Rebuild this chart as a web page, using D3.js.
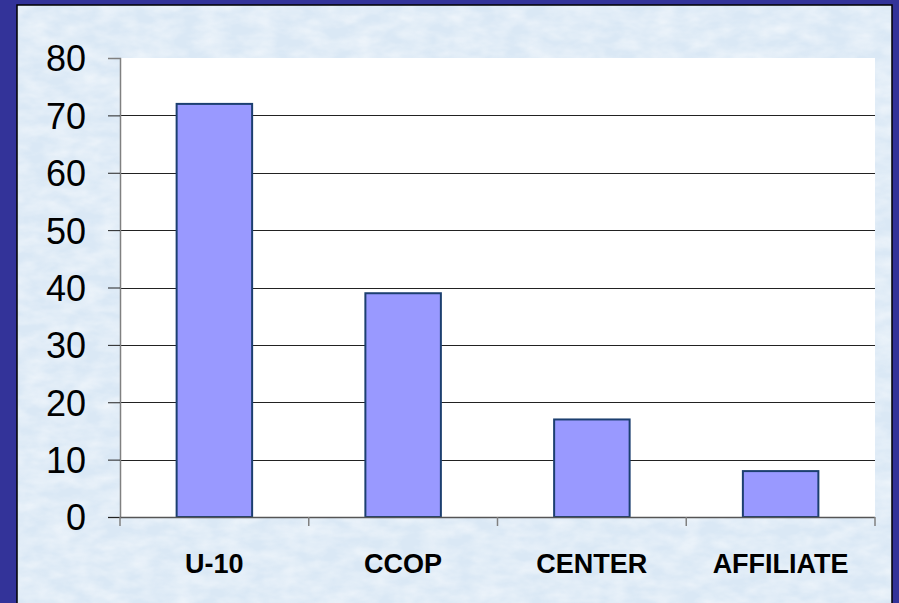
<!DOCTYPE html>
<html>
<head>
<meta charset="utf-8">
<script src="https://cdn.jsdelivr.net/npm/d3@7"></script>
<style>
  html, body { margin: 0; padding: 0; background: #333399; }
  svg { display: block; }
</style>
</head>
<body>
<script>
const categories = ["U-10", "CCOP", "CENTER", "AFFILIATE"];
const values = [72, 39, 17, 8];
const yTicks = [0, 10, 20, 30, 40, 50, 60, 70, 80];

const W = 899, H = 603;
const svg = d3.select("body").append("svg").attr("width", W).attr("height", H);

const defs = svg.append("defs");
const f = defs.append("filter").attr("id", "tex").attr("x", 0).attr("y", 0).attr("width", "100%").attr("height", "100%");
f.append("feTurbulence").attr("type", "fractalNoise").attr("baseFrequency", "0.04 0.08").attr("numOctaves", 3).attr("seed", 4).attr("result", "n");
f.append("feColorMatrix").attr("in", "n").attr("type", "matrix")
  .attr("values", "0 0 0 0 1  0 0 0 0 1  0 0 0 0 1  0 0 0 -1.4 1.0").attr("result", "w");
f.append("feComposite").attr("in", "w").attr("in2", "SourceGraphic").attr("operator", "in");

// outer dark blue
svg.append("rect").attr("width", W).attr("height", H).attr("fill", "#333399");
// light textured panel
svg.append("rect").attr("x", 17).attr("y", 5).attr("width", 875).attr("height", 620)
  .attr("fill", "#dae8f5").attr("stroke", "#000").attr("stroke-width", 1.5);
svg.append("rect").attr("x", 18).attr("y", 6).attr("width", 873).attr("height", 620)
  .attr("fill", "#f2f7fd").attr("filter", "url(#tex)").attr("opacity", 0.6);

const x0 = 120, x1 = 875, yTop = 58, yBot = 517;
const x = d3.scaleBand().domain(categories).range([x0, x1]).paddingInner(0.6).paddingOuter(0.3);
const y = d3.scaleLinear().domain([0, 80]).range([yBot, yTop]);

// plot area
svg.append("rect").attr("x", x0).attr("y", yTop).attr("width", x1 - x0).attr("height", yBot - yTop).attr("fill", "#fff");

// gridlines
svg.append("g").selectAll("line").data(yTicks.filter(d => d > 0 && d < 80)).join("line")
  .attr("x1", x0).attr("x2", x1)
  .attr("y1", d => Math.round(y(d)) + 0.5).attr("y2", d => Math.round(y(d)) + 0.5)
  .attr("stroke", "#222").attr("stroke-width", 1);

// bars
svg.append("g").selectAll("rect").data(categories).join("rect")
  .attr("x", d => x(d))
  .attr("y", (d, i) => y(values[i]))
  .attr("width", x.bandwidth())
  .attr("height", (d, i) => y(0) - y(values[i]))
  .attr("fill", "#9999ff")
  .attr("stroke", "#1c3f70").attr("stroke-width", 2);

// y axis
const yAxis = d3.axisLeft(y).tickValues(yTicks).tickSize(12).tickPadding(22).tickFormat(d3.format("d"));
const gy = svg.append("g").attr("transform", `translate(${x0},0)`).call(yAxis);
gy.select(".domain").attr("stroke", "#808080").attr("stroke-width", 1.5);
gy.selectAll(".tick line").attr("stroke", d => d === 80 ? "#808080" : "#222");
gy.selectAll(".tick text").attr("font-family", "Arial, 'Liberation Sans', sans-serif")
  .attr("font-size", 36).attr("fill", "#000").attr("dy", "0.36em");

// x axis
const xEdges = d3.range(categories.length + 1).map(i => x0 + i * (x1 - x0) / categories.length);
svg.append("line").attr("x1", x0).attr("x2", x1).attr("y1", yBot + 0.5).attr("y2", yBot + 0.5)
  .attr("stroke", "#555").attr("stroke-width", 1.5);
svg.append("g").selectAll("line").data(xEdges).join("line")
  .attr("x1", d => d).attr("x2", d => d).attr("y1", yBot).attr("y2", yBot + 9)
  .attr("stroke", "#808080").attr("stroke-width", 1.5);
svg.append("g").selectAll("text").data(categories).join("text")
  .attr("x", d => x(d) + x.bandwidth() / 2)
  .attr("y", 573)
  .attr("text-anchor", "middle")
  .attr("font-family", "Arial, 'Liberation Sans', sans-serif")
  .attr("font-weight", "bold").attr("font-size", 27).attr("fill", "#000")
  .text(d => d);
</script>
</body>
</html>
